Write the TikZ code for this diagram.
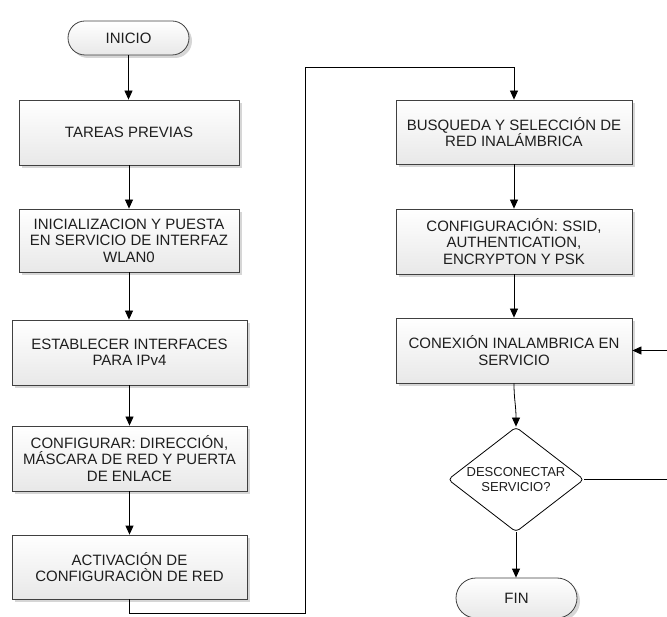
\documentclass[tikz,border=0pt]{standalone}
\usepackage{fontspec}
\setmainfont{Liberation Sans}
\usetikzlibrary{arrows.meta,shapes.geometric,shapes.misc,shadows}
\definecolor{edgegray}{HTML}{404040}
\definecolor{txt}{HTML}{1E1E1E}
\begin{document}
\begin{tikzpicture}[x=1pt,y=-1pt,
  shade box/.style={draw=edgegray, line width=0.8pt, top color=white, bottom color=black!9,
    drop shadow={shadow xshift=3pt,shadow yshift=-3pt,fill=black!16,opacity=1},
    align=center, inner sep=0pt, text=txt, font=\fontsize{15}{16.5}\selectfont},
  procbox/.style={shade box, rectangle},
  termbox/.style={shade box, rounded rectangle, minimum width=121pt},
  arr/.style={draw=black, line width=0.8pt, -{Triangle[length=9pt,width=8pt]}},
  ln/.style={draw=black, line width=0.8pt}
]
\useasboundingbox (0,0) rectangle (667,617);

% left column
\node[termbox, minimum height=34pt] (inicio) at (128.5,38) {INICIO};
\node[procbox, minimum width=220pt, minimum height=65pt] (tareas) at (129,132.5) {TAREAS PREVIAS};
\node[procbox, minimum width=220pt, minimum height=63pt] (inic) at (129,240.5) {INICIALIZACION Y PUESTA\\EN SERVICIO DE INTERFAZ\\WLAN0};
\node[procbox, minimum width=235pt, minimum height=65pt] (estab) at (129.5,352.5) {ESTABLECER INTERFACES\\PARA IPv4};
\node[procbox, minimum width=235pt, minimum height=65pt] (confr) at (129.5,458.5) {CONFIGURAR: DIRECCIÓN,\\MÁSCARA DE RED Y PUERTA\\DE ENLACE};
\node[procbox, minimum width=235pt, minimum height=64pt] (activ) at (129.5,567) {ACTIVACIÓN DE\\CONFIGURACIÒN DE RED};

% right column
\node[procbox, minimum width=236pt, minimum height=64pt] (busq) at (514,132) {BUSQUEDA Y SELECCIÓN DE\\RED INALÁMBRICA};
\node[procbox, minimum width=236pt, minimum height=65pt] (confw) at (514,241.5) {CONFIGURACIÓN: SSID,\\AUTHENTICATION,\\ENCRYPTON Y PSK};
\node[procbox, minimum width=236pt, minimum height=65pt] (conex) at (514,350.5) {CONEXIÓN INALAMBRICA EN\\SERVICIO};
\node[diamond, draw=black, line width=0.8pt, fill=white, minimum width=136pt, minimum height=105pt,
      inner sep=0pt, rounded corners=4pt] (dec) at (516,479.5) {};
\node[align=center, text=txt, font=\fontsize{13}{15}\selectfont] (dectext) at (dec.center) {DESCONECTAR\\SERVICIO?};
\node[termbox, minimum height=40pt] (fin) at (516.5,598) {FIN};

% connectors
\draw[arr] (inicio.south) -- (inicio.south |- tareas.north);
\draw[arr] (tareas.south) -- (tareas.south |- inic.north);
\draw[arr] (inic.south) -- (inic.south |- estab.north);
\draw[arr] (estab.south) -- (confr.north);
\draw[arr] (confr.south) -- (activ.north);
\coordinate (c1) at (129.5,613);
\coordinate (c2) at (305,67);
\draw[arr] (activ.south) -- (c1) -| (c2) -| (busq.north);
\draw[arr] (busq.south) -- (confw.north);
\draw[arr] (confw.south) -- (conex.north);
\draw[arr] (conex.south) .. controls (514,400) and (516,405) .. (dec.north);
\draw[arr] (dec.south) -- (dec.south |- fin.north);
\coordinate (c3) at (668,479.5);
\draw[arr] (dec.east) -- (c3) |- (conex.east);
\end{tikzpicture}
\end{document}
